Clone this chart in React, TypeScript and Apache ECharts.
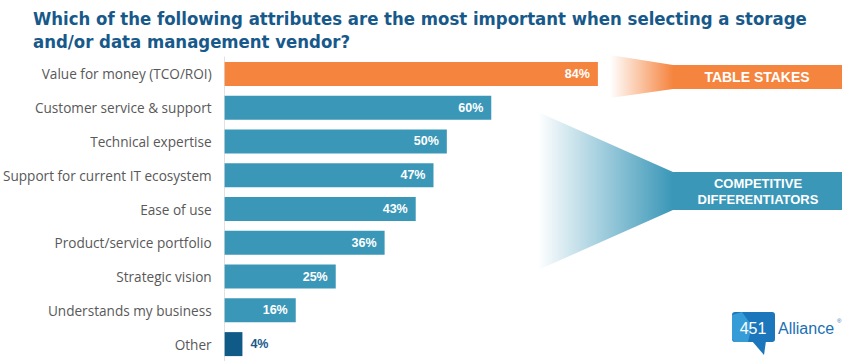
import React, { useEffect, useRef } from "react";
import * as echarts from "echarts";

const categories = [
  "Value for money (TCO/ROI)",
  "Customer service & support",
  "Technical expertise",
  "Support for current IT ecosystem",
  "Ease of use",
  "Product/service portfolio",
  "Strategic vision",
  "Understands my business",
  "Other",
];
const values = [84, 60, 50, 47, 43, 36, 25, 16, 4];
const barColors = ["#f5843f", "#3a97b8", "#3a97b8", "#3a97b8", "#3a97b8", "#3a97b8", "#3a97b8", "#3a97b8", "#0f5a87"];
const titleText =
  "Which of the following attributes are the most important when selecting a storage\nand/or data management vendor?";
const badgeTop = "TABLE STAKES";
const badgeBottom = "COMPETITIVE\nDIFFERENTIATORS";

export default function App() {
  const ref = useRef<HTMLDivElement>(null);
  useEffect(() => {
    if (!ref.current) return;
    const chart = echarts.init(ref.current, null, { renderer: "svg" });
    const data = values.map((v, i) => {
      const inside = v >= 10;
      return {
        value: v,
        itemStyle: { color: barColors[i] },
        label: inside
          ? { position: "insideRight", distance: 8, color: "#ffffff" }
          : { position: "right", distance: 8, color: "#17598a" },
      };
    });
    const orangeGrad = new echarts.graphic.LinearGradient(0, 0, 1, 0, [
      { offset: 0, color: "rgba(245,132,63,0)" },
      { offset: 1, color: "rgba(245,132,63,1)" },
    ]);
    const tealGrad = new echarts.graphic.LinearGradient(0, 0, 1, 0, [
      { offset: 0, color: "rgba(58,151,184,0)" },
      { offset: 1, color: "rgba(58,151,184,1)" },
    ]);
    chart.setOption({
      animation: false,
      backgroundColor: "#ffffff",
      title: {
        text: titleText,
        left: 28,
        top: 2,
        textStyle: {
          fontFamily: "'DejaVu Sans Condensed', sans-serif",
          fontWeight: "bold",
          fontSize: 18.4,
          lineHeight: 23,
          color: "#17598a",
        },
      },
      grid: { left: 224, top: 57, width: 445, height: 304, containLabel: false },
      xAxis: {
        type: "value",
        min: 0,
        max: 100,
        show: false,
      },
      yAxis: {
        type: "category",
        data: categories,
        inverse: true,
        axisLine: { show: true, lineStyle: { color: "#e2e2e2", width: 1 } },
        axisTick: { show: false },
        axisLabel: {
          margin: 13,
          color: "#595959",
          fontSize: 13.6,
          fontFamily: "'Open Sans', sans-serif",
        },
      },
      series: [
        {
          type: "bar",
          data,
          barCategoryGap: "29%",
          label: {
            show: true,
            formatter: "{c}%",
            fontSize: 12.5,
            fontWeight: "bold",
            fontFamily: "'Liberation Sans', Arial, sans-serif",
          },
        },
      ],
      graphic: [
        {
          type: "polygon",
          shape: { points: [[610, 55], [673, 65], [673, 89], [610, 98]] },
          style: { fill: orangeGrad },
        },
        {
          type: "rect",
          shape: { x: 673, y: 65, width: 169, height: 24 },
          style: { fill: "#f5843f" },
        },
        {
          type: "text",
          x: 757,
          y: 77,
          style: {
            text: badgeTop,
            fill: "#ffffff",
            fontSize: 14,
            fontWeight: "bold",
            fontFamily: "'Liberation Sans', Arial, sans-serif",
            align: "center",
            verticalAlign: "middle",
          },
        },
        {
          type: "polygon",
          shape: { points: [[538, 112], [673, 172], [673, 210], [538, 270]] },
          style: { fill: tealGrad },
        },
        {
          type: "rect",
          shape: { x: 673, y: 172, width: 169, height: 38 },
          style: { fill: "#3a97b8" },
        },
        {
          type: "text",
          x: 758,
          y: 191,
          style: {
            text: badgeBottom,
            fill: "#ffffff",
            fontSize: 13,
            fontWeight: "bold",
            lineHeight: 16,
            fontFamily: "'Liberation Sans', Arial, sans-serif",
            align: "center",
            verticalAlign: "middle",
          },
        },
        {
          type: "group",
          children: [
            {
              type: "rect",
              shape: { x: 732, y: 312, width: 43, height: 30, r: 3 },
              style: { fill: "#1b76bc" },
            },
            {
              type: "polygon",
              shape: { points: [[752, 341], [766, 341], [764, 355]] },
              style: { fill: "#1b76bc" },
            },
            {
              type: "polygon",
              shape: { points: [[732, 315], [742, 312], [752, 326], [748, 342], [735, 342], [732, 339]] },
              style: { fill: "#3aa3dc", opacity: 0.85 },
            },
            {
              type: "text",
              x: 753,
              y: 328,
              style: {
                text: "451",
                fill: "#ffffff",
                fontSize: 16,
                fontFamily: "'Liberation Sans', Arial, sans-serif",
                align: "center",
                verticalAlign: "middle",
              },
            },
            {
              type: "text",
              x: 778,
              y: 328,
              style: {
                text: "Alliance",
                fill: "#1a6fb5",
                fontSize: 16,
                fontFamily: "'Liberation Sans', Arial, sans-serif",
                align: "left",
                verticalAlign: "middle",
              },
            },
            {
              type: "text",
              x: 837,
              y: 321,
              style: {
                text: "®",
                fill: "#1a6fb5",
                fontSize: 6,
                fontFamily: "'Liberation Sans', Arial, sans-serif",
                align: "left",
                verticalAlign: "middle",
              },
            },
          ],
        },
      ],
    });
    return () => chart.dispose();
  }, []);
  return <div ref={ref} style={{ width: 850, height: 361, position: "absolute", left: 0, top: 0 }} />;
}
